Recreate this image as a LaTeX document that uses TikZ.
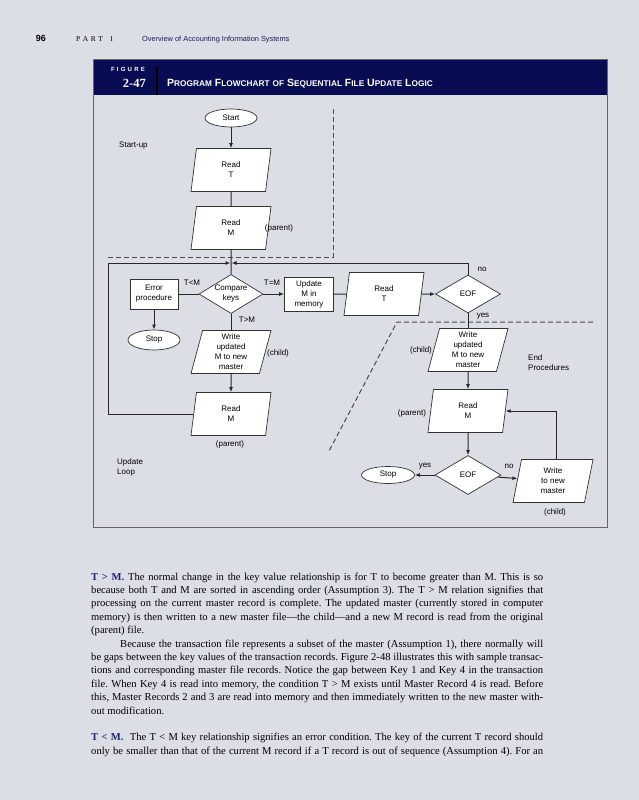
\documentclass[tikz,border=0pt]{standalone}
\usepackage{fontspec}
\setmainfont{Liberation Serif}
\setsansfont{Liberation Sans}
\usetikzlibrary{shapes.geometric,arrows.meta}
\definecolor{pagebg}{RGB}{220,222,230}
\definecolor{navy}{RGB}{8,12,82}
\definecolor{inknavy}{RGB}{28,38,110}
\newcommand\jl[1]{\hbox to 452pt{#1}}
\newcommand\scs[1]{{\fontsize{8.3}{9}\selectfont #1}}
\begin{document}
\begin{tikzpicture}[x=1pt,y=-1pt,
  every node/.style={font=\sffamily\fontsize{8}{10}\selectfont},
  flow/.style={draw=black!80, fill=white, line width=0.7pt, align=center},
  io/.style={flow, trapezium, trapezium left angle=73, trapezium right angle=107, trapezium stretches body, minimum width=80pt, minimum height=43pt, inner sep=1pt},
  proc/.style={flow, rectangle, inner sep=2pt},
  term/.style={flow, ellipse, inner sep=0pt},
  test/.style={flow, diamond, aspect=1.65, inner sep=-1.5pt},
  lab/.style={inner sep=0pt, align=center},
  link/.style={line width=1pt, black!85},
  arr/.style={link, -{Latex[length=5pt,width=4pt]}},
  zone/.style={dash pattern=on 5pt off 3pt, line width=1pt, black!70}]
\fill[pagebg] (0,0) rectangle (639,800);
\useasboundingbox (0,0) rectangle (639,800);
\node[anchor=base, inner sep=0pt, font=\sffamily\bfseries\fontsize{9}{10}\selectfont] (pageno) at (41,41.5) {96};
\node[anchor=base west, inner sep=0pt, font=\rmfamily\fontsize{7.5}{9}\selectfont] (part) at (76,41.5) {P\,\,A\,\,R\,\,T\quad I};
\node[anchor=base west, inner sep=0pt, text=inknavy!80!black, font=\sffamily\fontsize{7.4}{9}\selectfont] (running) at (142,41.5) {Overview of Accounting Information Systems};
\fill[navy] (93,60) rectangle (607,95);
\draw[black!60, line width=1pt] (93,60) rectangle (607,527);
\draw[black, line width=1.5pt] (157,66) -- (157,95);
\node[anchor=base east, inner sep=0pt, text=white, font=\sffamily\bfseries\fontsize{6}{7}\selectfont] (figword) at (145,71.5) {F\kern2.2pt I\kern2.2pt G\kern2.2pt U\kern2.2pt R\kern2.2pt E};
\node[anchor=base east, inner sep=0pt, text=white, font=\rmfamily\bfseries\fontsize{12.5}{15}\selectfont] (fignum) at (146,87.5) {2-47};
\node[anchor=base west, inner sep=0pt, text=white, font=\sffamily\bfseries\fontsize{10.5}{12}\selectfont] (title) at (167,86) {P\scs{ROGRAM} F\scs{LOWCHART} \scs{OF} S\scs{EQUENTIAL} F\scs{ILE} U\scs{PDATE} L\scs{OGIC}};
\draw[zone] (108,257) -- (333,257) -- (333,106);
\draw[zone] (593,322) -- (397,322) -- (328,453);
\node[term, minimum width=52pt, minimum height=18pt] (start) at (231,118) {Start};
\node[io] (readT) at (231,170) {Read\\T};
\node[io] (readM) at (231,228) {Read\\M};
\node[test, minimum width=64pt, minimum height=39pt] (cmp) at (231,294) {Compare\\keys};
\node[proc, minimum width=48pt, minimum height=30pt] (err) at (154,294) {Error\\procedure};
\node[term, minimum width=52pt, minimum height=20pt] (stopA) at (154,340) {Stop};
\node[proc, minimum width=49pt, minimum height=34pt] (upd) at (309,294) {Update\\M in\\memory};
\node[io] (readT2) at (384,294) {Read\\T};
\node[test, minimum width=65pt, minimum height=38pt] (eofA) at (468,294) {EOF};
\node[io] (writeA) at (231,352) {Write\\updated\\M to new\\master};
\node[io] (readMA) at (231,414) {Read\\M};
\node[io] (writeB) at (468,350) {Write\\updated\\M to new\\master};
\node[io] (readMB) at (468,411) {Read\\M};
\node[test, minimum width=66pt, minimum height=39pt] (eofB) at (468,475) {EOF};
\node[term, minimum width=53pt, minimum height=17pt] (stopB) at (388,475) {Stop};
\node[io] (writeC) at (553,481) {Write\\to new\\master};
\coordinate (jn) at (231,263);
\coordinate (loopL) at (108,263);
\draw[arr] (start) -- (readT);
\draw[link] (readT) -- (readM);
\draw[link] (readM) -- (cmp);
\draw[arr, shorten >=0.5pt] (readMA.west) -| (loopL) -- (jn);
\draw[arr, shorten >=0.5pt] (eofA.north) |- (jn);
\draw[link] (cmp) -- (err);
\draw[arr] (err) -- (stopA);
\draw[arr] (cmp) -- (upd);
\draw[link] (upd) -- (readT2);
\draw[arr] (readT2) -- (eofA);
\draw[link] (cmp) -- (writeA);
\draw[arr] (writeA) -- (readMA);
\draw[link] (eofA) -- (writeB);
\draw[arr] (writeB) -- (readMB);
\draw[arr] (readMB) -- (eofB);
\draw[arr] (eofB) -- (stopB);
\draw[arr] (eofB) -- (writeC);
\draw[arr] ([xshift=3pt]writeC.north) |- (readMB.east);
\node[lab, anchor=west] (startup) at (119,146) {Start-up};
\node[lab] (parentA) at (279,228) {(parent)};
\node[lab] (tlt) at (192,283) {T<M};
\node[lab] (teq) at (272,283) {T=M};
\node[lab] (tgt) at (247,320) {T>M};
\node[lab] (childA) at (278,353) {(child)};
\node[lab] (parentB) at (230,444) {(parent)};
\node[lab, anchor=west, align=left] (updloop) at (117,467) {Update\\Loop};
\node[lab] (noA) at (482,269) {no};
\node[lab] (yesA) at (483,316) {yes};
\node[lab] (childB) at (421,350) {(child)};
\node[lab, anchor=west, align=left] (endproc) at (528,363) {End\\Procedures};
\node[lab] (parentC) at (412,413) {(parent)};
\node[lab] (yesB) at (425,466) {yes};
\node[lab] (noB) at (509,466) {no};
\node[lab] (childC) at (555,512) {(child)};
\node[anchor=base west, inner sep=0pt, font=\rmfamily\fontsize{10.6}{13.4}\selectfont] (body) at (91,580) {\vtop{\hsize=452pt \baselineskip=13.4pt \frenchspacing \spaceskip=0.25em plus 0.5em minus 0.12em
\jl{{\color{inknavy}\bfseries T > M.} The normal change in the key value relationship is for T to become greater than M. This is so}
\jl{because both T and M are sorted in ascending order (Assumption 3). The T > M relation signifies that}
\jl{processing on the current master record is complete. The updated master (currently stored in computer}
\jl{memory) is then written to a new master file---the child---and a new M record is read from the original}
\hbox{(parent) file.}
\jl{\kern29pt Because the transaction file represents a subset of the master (Assumption 1), there normally will}
\jl{be gaps between the key values of the transaction records. Figure 2-48 illustrates this with sample transac-}
\jl{tions and corresponding master file records. Notice the gap between Key 1 and Key 4 in the transaction}
\jl{file. When Key 4 is read into memory, the condition T > M exists until Master Record 4 is read. Before}
\jl{this, Master Records 2 and 3 are read into memory and then immediately written to the new master with-}
\hbox{out modification.}
\vskip13.4pt
\jl{{\color{inknavy}\bfseries T < M.}\ \ The T < M key relationship signifies an error condition. The key of the current T record should}
\jl{only be smaller than that of the current M record if a T record is out of sequence (Assumption 4). For an}}};
\end{tikzpicture}
\end{document}
